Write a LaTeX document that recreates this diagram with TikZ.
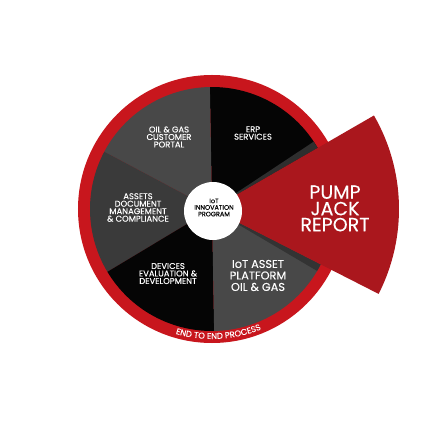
\documentclass[tikz,border=0pt]{standalone}
\usepackage{fontspec}
\setmainfont{Poppins}[FakeBold=0.1]
\usetikzlibrary{decorations.text}
\definecolor{ringred}{HTML}{C8161D}
\definecolor{wedgered}{HTML}{AA171D}
\definecolor{slicegrayA}{HTML}{484848}
\definecolor{slicegrayB}{HTML}{3A3A3A}
\definecolor{sliceblack}{HTML}{050505}
\definecolor{shadowA}{HTML}{2E2E2E}
\definecolor{shadowB}{HTML}{333333}
\tikzset{
  lbl/.style={text=white, align=center, inner sep=0pt, font=\fontsize{8.4}{7.5}\selectfont},
  biglbl/.style={text=white, align=center, inner sep=0pt, font=\fontsize{11.3}{11.5}\selectfont},
  hublbl/.style={text=black, align=center, inner sep=0pt, font=\fontsize{6.5}{6.6}\selectfont},
  pumplbl/.style={text=white, inner sep=0pt, text height=13.5pt, text depth=0pt, font=\fontsize{19}{19}\selectfont},
}
\newcommand{\myslice}[4]{\fill[#4] (0,0) -- (#1:#3) arc[start angle=#1, end angle=#2, radius=#3] -- cycle;}
\begin{document}
\begin{tikzpicture}[x=1pt,y=1pt]
\useasboundingbox (-212,-224) rectangle (221,209);
\fill[white] (-212,-224) rectangle (221,209);
% outer red ring
\fill[ringred] (0,0) circle[radius=134];
% slices
\myslice{30}{91}{122}{sliceblack}
\myslice{91}{152}{122}{slicegrayA}
\myslice{152}{211}{122}{slicegrayB}
\myslice{211}{271}{122}{sliceblack}
\myslice{271}{333}{122}{slicegrayA}
% shadows beside the wedge
\myslice{30}{33.5}{122}{shadowA}
\myslice{329.5}{333}{122}{shadowB}
% pump jack wedge
\myslice{-27}{30}{187}{wedgered}
% hub
\fill[white] (1,-2) circle[radius=29];
% labels
\node[lbl] (portal) at (-43,72) {OIL \& GAS\\CUSTOMER\\PORTAL};
\node[lbl] (erp) at (41,76) {ERP\\SERVICES};
\node[lbl] (assets) at (-74,1.5) {ASSETS\\DOCUMENT\\MANAGEMENT\\\& COMPLIANCE};
\node[hublbl] (hub) at (2,1.5) {IoT\\INNOVATION\\PROGRAM};
\node[lbl] (devices) at (-44,-64.5) {DEVICES\\EVALUATION \&\\DEVELOPMENT};
\node[biglbl] (platform) at (46,-66.5) {IoT ASSET\\PLATFORM\\OIL \& GAS};
\node[pumplbl] (pumpA) at (123,17) {PUMP};
\node[pumplbl] (pumpB) at (123,0.5) {JACK};
\node[pumplbl] (pumpC) at (123,-15.5) {REPORT};
% curved caption
\path[decorate, decoration={text along path, text align=center,
  text={|\color{white}\fontsize{8.4}{8.4}\selectfont|END TO END PROCESS}}]
  (-122:130) arc[start angle=-122, end angle=-52, radius=130];
\end{tikzpicture}
\end{document}
